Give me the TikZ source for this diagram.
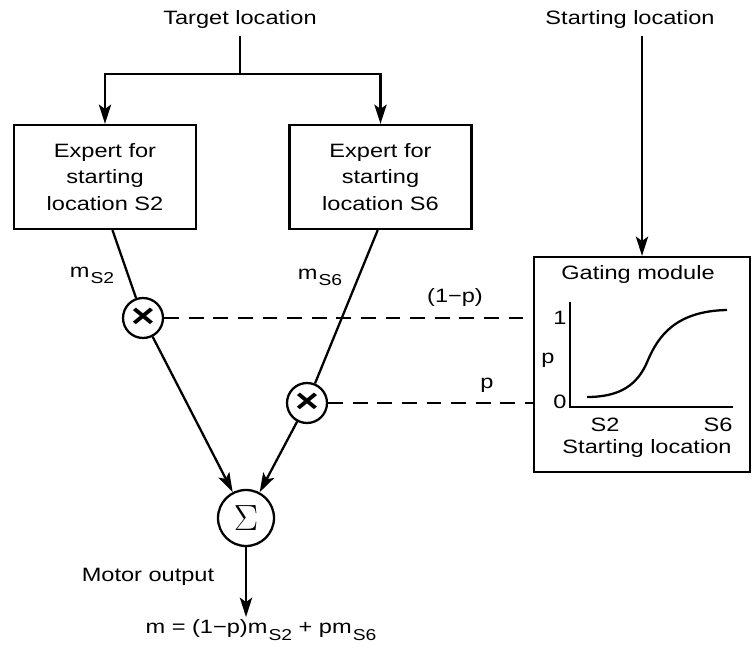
\documentclass[tikz,border=0pt]{standalone}
\usepackage{fontspec}
\setmainfont{Liberation Sans}[FakeStretch=1.22]
\usetikzlibrary{arrows.meta}
\newcommand{\msub}[1]{m\kern0.6pt\raisebox{-0.6ex}{\small #1}}

\begin{document}
\begin{tikzpicture}[x=0.02cm, y=-0.02cm, line width=1.3pt, align=center,
  font=\fontsize{11}{15}\selectfont,
  expert/.style={draw, minimum width=3.64cm, minimum height=2.08cm, inner sep=0pt},
  mult/.style={circle, draw, minimum size=0.8cm, inner sep=0pt,
    font=\fontsize{19}{19}\selectfont\bfseries},
  arr/.style={-{Stealth[length=11pt, width=7pt, inset=2.5pt]}},
  ctrl/.style={dash pattern=on 8.5pt off 5.5pt}]
\useasboundingbox (0,0) rectangle (753,651);
\path (240,20) node (tgt) {Target location}
      (630,20) node (start) {Starting location}
      (105,177) node[expert] (e1) {Expert for\\starting\\location S2}
      (380.5,177) node[expert] (e2) {Expert for\\starting\\location S6}
      (642,364.5) node[draw, minimum width=4.32cm, minimum height=4.3cm] (gm) {}
      (143,318) node[mult] (m1) {×}
      (307,403) node[mult] (m2) {×}
      (246,518) node[circle, draw, minimum size=1.12cm, inner sep=0pt,
        font=\fontsize{21}{21}\selectfont] (sum) {$\Sigma$}

      (92,275) node (ls2) {\msub{S2}}
      (320,277) node (ls6) {\msub{S6}}
      (455,298) node (l1p) {(1−p)}
      (487,385) node (lp) {p}
      (148,577) node (mo) {Motor output}
      (261,617) node[anchor=north, inner sep=1pt] (form) {m = (1−p)\msub{S2} + p\msub{S6}}

      (638,275) node (gt) {Gating module}
      (560,318) node (one) {1}
      (560,402) node (zero) {0}
      (548,360) node (py) {p}
      (605,425) node (s2) {S2}
      (718,425) node (s6) {S6}
      (647,449) node (sl) {Starting location};

\coordinate (split) at (240,74);
\draw (tgt) -- (split);
\draw[arr] (split) -| (e1);
\draw[arr] (split) -| (e2);
\draw[arr] (start.south -| gm.north) -- (gm);

\draw (e1.-82) -- (m1);
\draw (e2.-93) -- (m2);
\draw[arr] (m1) -- (sum);
\draw[arr] (m2) -- (sum);
\draw[arr] (sum) -- (sum |- form.north);

\draw[ctrl] (m1) -- (m1 -| gm.west);
\draw[ctrl] (m2) -- (m2 -| gm.west);

% sigmoid inside the gating module
\coordinate (o) at (570,407);
\draw (570,302) -- (o) -- (733,407);
\draw (587,397) .. controls (620,397) and (638,385) .. (648,360)
  .. controls (658,337) and (675,311) .. (727,310);
\end{tikzpicture}
\end{document}
